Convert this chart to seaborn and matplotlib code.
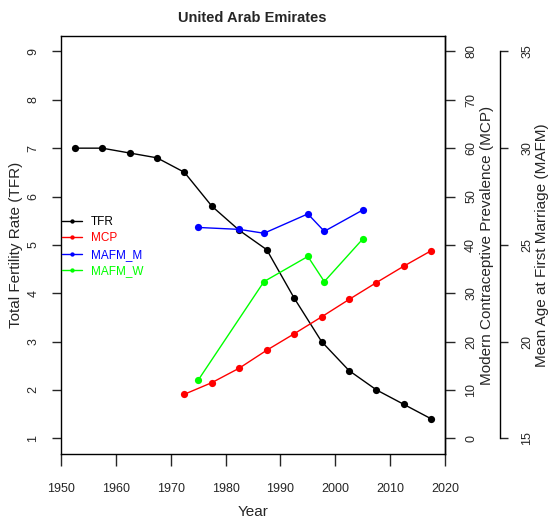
import matplotlib
matplotlib.use("Agg")
import matplotlib.pyplot as plt
from matplotlib import font_manager
import seaborn as sns
import pandas as pd

# ---- data ----
years_tfr = [1952.5, 1957.5, 1962.5, 1967.5, 1972.5, 1977.5, 1982.5, 1987.5,
             1992.5, 1997.5, 2002.5, 2007.5, 2012.5, 2017.5]
tfr = [7.0, 7.0, 6.9, 6.8, 6.5, 5.8, 5.3, 4.9, 3.9, 3.0, 2.4, 2.0, 1.7, 1.4]

years_mcp = [1972.5, 1977.5, 1982.5, 1987.5, 1992.5, 1997.5, 2002.5, 2007.5,
             2012.5, 2017.5]
mcp = [9.1, 11.5, 14.5, 18.2, 21.6, 25.1, 28.7, 32.2, 35.6, 38.8]

years_mafm_m = [1975, 1982.5, 1987, 1995, 1998, 2005]
mafm_m = [25.9, 25.8, 25.6, 26.6, 25.7, 26.8]

years_mafm_w = [1975, 1987, 1995, 1998, 2005]
mafm_w = [18.0, 23.1, 24.4, 23.1, 25.3]

x_ticks = [1950, 1960, 1970, 1980, 1990, 2000, 2010, 2020]
tfr_ticks = [1, 2, 3, 4, 5, 6, 7, 8, 9]
mcp_ticks = [0, 10, 20, 30, 40, 50, 60, 70, 80]
mafm_ticks = [15, 20, 25, 30, 35]

title = "United Arab Emirates"

# ---- style ----
sns.set_style("white")
plt.rcParams['font.family'] = ['Liberation Sans', 'DejaVu Sans']
plt.rcParams['axes.edgecolor'] = 'black'
plt.rcParams['axes.linewidth'] = 1.0

names = {f.name for f in font_manager.fontManager.ttflist}
if 'Liberation Sans Narrow' in names:
    narrow = ['Liberation Sans Narrow', 'Liberation Sans', 'DejaVu Sans']
    tick_fs, leg_fs, title_fs = 10.5, 10, 11.5
else:
    narrow = ['Liberation Sans', 'DejaVu Sans']
    tick_fs, leg_fs, title_fs = 9, 8.5, 10.5

W, H = 550, 522
fig = plt.figure(figsize=(W / 100, H / 100), dpi=100)
L, R, T, B = 61, 445, 36, 453.7
ax = fig.add_axes([L / W, 1 - B / H, (R - L) / W, (B - T) / H])
ax2 = ax.twinx()
ax3 = ax.twinx()
ax3.spines['right'].set_position(('axes', (500 - L) / (R - L)))

lw = 1.0
ms = 5.2


def pad4(lo, hi):
    d = (hi - lo) * 0.04
    return lo - d, hi + d


df_tfr = pd.DataFrame({"Year": years_tfr, "v": tfr})
df_mcp = pd.DataFrame({"Year": years_mcp, "v": mcp})
df_m = pd.DataFrame({"Year": years_mafm_m, "v": mafm_m})
df_w = pd.DataFrame({"Year": years_mafm_w, "v": mafm_w})

sns.lineplot(data=df_tfr, x="Year", y="v", ax=ax, color="black", marker="o",
             markersize=ms, markeredgewidth=0, linewidth=lw, label="TFR", legend=False)
sns.lineplot(data=df_mcp, x="Year", y="v", ax=ax2, color="#FF0000", marker="o",
             markersize=ms, markeredgewidth=0, linewidth=lw, label="MCP", legend=False)
sns.lineplot(data=df_m, x="Year", y="v", ax=ax3, color="#0000FF", marker="o",
             markersize=ms, markeredgewidth=0, linewidth=lw, label="MAFM_M", legend=False)
sns.lineplot(data=df_w, x="Year", y="v", ax=ax3, color="#00FF00", marker="o",
             markersize=ms, markeredgewidth=0, linewidth=lw, label="MAFM_W", legend=False)

ax.set_xlim(1950, 2020)
ax.set_ylim(*pad4(1, 9))
ax2.set_ylim(*pad4(0, 80))
ax3.set_ylim(*pad4(15, 35))

ax.set_xticks(x_ticks)
ax.set_xticklabels([str(v) for v in x_ticks], fontsize=tick_fs, family=narrow)
ax.set_yticks(tfr_ticks)
ax.set_yticklabels([str(v) for v in tfr_ticks], fontsize=tick_fs, rotation=90,
                   va='center', family=narrow)
ax2.set_yticks(mcp_ticks)
ax2.set_yticklabels([str(v) for v in mcp_ticks], fontsize=tick_fs, rotation=90,
                    va='center', family=narrow)
ax3.set_yticks(mafm_ticks)
ax3.set_yticklabels([str(v) for v in mafm_ticks], fontsize=tick_fs, rotation=90,
                    va='center', family=narrow)
ax3.spines['right'].set_bounds(15, 35)

ax.tick_params(axis='x', direction='out', length=8.6, width=1, pad=12.5, bottom=True)
ax.tick_params(axis='y', direction='out', length=6.5, width=1, pad=9, left=True)
ax2.tick_params(axis='y', direction='out', length=7, width=1, pad=7.5, right=True)
ax3.tick_params(axis='y', direction='out', length=6, width=1, pad=9.5, right=True)

ax.set_xlabel("")
ax.set_ylabel("")
ax2.set_ylabel("")
ax3.set_ylabel("")

for s in ['top', 'right', 'left', 'bottom']:
    ax.spines[s].set_visible(True)
for s in ['top', 'left', 'bottom']:
    ax3.spines[s].set_visible(False)
    ax2.spines[s].set_visible(False)

lab_fs = 11
fig.text(252.5 / W, 1 - 18 / H, title, ha='center', va='center', fontsize=title_fs,
         fontweight='bold', family=narrow)
fig.text(253 / W, 1 - 512 / H, "Year", ha='center', va='center', fontsize=lab_fs)
fig.text(16 / W, 1 - 245 / H, "Total Fertility Rate (TFR)", ha='center', va='center',
         rotation=90, fontsize=lab_fs)
fig.text(487 / W, 1 - 245 / H, "Modern Contraceptive Prevalence (MCP)", ha='center',
         va='center', rotation=90, fontsize=lab_fs)
fig.text(542 / W, 1 - 245 / H, "Mean Age at First Marriage (MAFM)", ha='center',
         va='center', rotation=90, fontsize=lab_fs)

handles = []
labels = []
for a in (ax, ax2, ax3):
    h, l = a.get_legend_handles_labels()
    handles += h
    labels += l
leg = ax3.legend(handles, labels, loc='upper left',
                 bbox_to_anchor=((62 - L) / (R - L), (B - 216) / (B - T)),
                 frameon=False, prop={'family': narrow, 'size': leg_fs},
                 handlelength=1.7, handletextpad=0.75,
                 labelspacing=0.38, markerscale=0.6, labelcolor='linecolor',
                 borderaxespad=0, borderpad=0)

fig.savefig("out.png", dpi=100)
